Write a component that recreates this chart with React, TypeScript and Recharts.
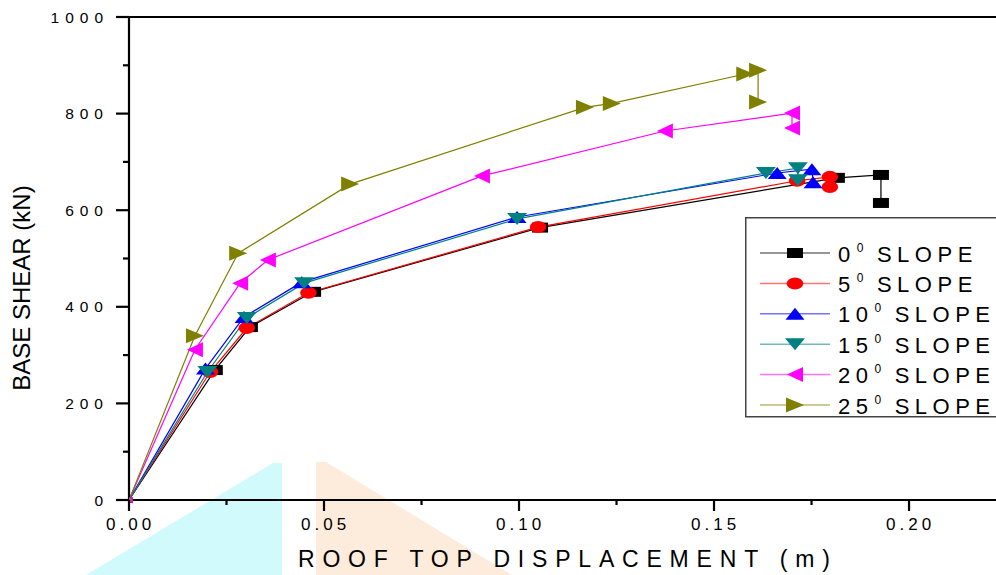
import React from 'react';
import { LineChart, Line, XAxis, YAxis, ReferenceLine } from 'recharts';

// roof displacement (m) and base shear (kN) per roof slope
const slope0Disp = [0, 0.022, 0.031, 0.0472, 0.1054, 0.1815, 0.1928, 0.1928];
const slope0Shear = [0, 269, 358, 431, 564, 667, 673, 615];

const slope5Disp = [0, 0.0208, 0.0302, 0.046, 0.1049, 0.1713, 0.1797, 0.1797];
const slope5Shear = [0, 265, 356, 429, 565, 661, 669, 648];

const slope10Disp = [0, 0.0196, 0.0295, 0.0443, 0.0995, 0.1662, 0.1751, 0.1754];
const slope10Shear = [0, 272, 379, 451, 586, 677, 685, 658];

const slope15Disp = [0, 0.0201, 0.0302, 0.0449, 0.0995, 0.1633, 0.1715, 0.1715];
const slope15Shear = [0, 265, 377, 449, 582, 677, 687, 662];

const slope20Disp = [0, 0.0169, 0.0285, 0.0356, 0.0905, 0.1374, 0.17, 0.17];
const slope20Shear = [0, 311, 449, 497, 671, 764, 801, 770];

const slope25Disp = [0, 0.0169, 0.028, 0.0567, 0.1169, 0.1238, 0.158, 0.1613, 0.1613];
const slope25Shear = [0, 340, 511, 654, 813, 821, 882, 890, 824];

const slopeLabels = ['0', '5', '10', '15', '20', '25'];

const xMajorTicks = [0, 0.05, 0.1, 0.15, 0.2];
const xMinorTicks = [0.025, 0.075, 0.125, 0.175];
const yMajorTicks = [0, 200, 400, 600, 800, 1000];
const yMinorTicks = [100, 300, 500, 700, 900];

const FONT = '"Liberation Sans", Arial, sans-serif';

type MarkerKind = 'square' | 'circle' | 'up' | 'down' | 'left' | 'right';

const toPoints = (xs: number[], ys: number[]) => xs.map((x, i) => ({ x, y: ys[i] }));

const series: { label: string; data: { x: number; y: number }[]; color: string; marker: MarkerKind }[] = [
  { label: slopeLabels[0], data: toPoints(slope0Disp, slope0Shear), color: '#000000', marker: 'square' },
  { label: slopeLabels[1], data: toPoints(slope5Disp, slope5Shear), color: '#ff0000', marker: 'circle' },
  { label: slopeLabels[2], data: toPoints(slope10Disp, slope10Shear), color: '#0000ff', marker: 'up' },
  { label: slopeLabels[3], data: toPoints(slope15Disp, slope15Shear), color: '#008080', marker: 'down' },
  { label: slopeLabels[4], data: toPoints(slope20Disp, slope20Shear), color: '#ff00ff', marker: 'left' },
  { label: slopeLabels[5], data: toPoints(slope25Disp, slope25Shear), color: '#808000', marker: 'right' },
];

function Marker({ kind, cx, cy, color, s = 1 }: { kind: MarkerKind; cx: number; cy: number; color: string; s?: number }) {
  switch (kind) {
    case 'square':
      return <rect x={cx - 8 * s} y={cy - 5 * s} width={16 * s} height={10 * s} fill={color} />;
    case 'circle':
      return <ellipse cx={cx} cy={cy} rx={8.3 * s} ry={6 * s} fill={color} />;
    case 'up':
      return <polygon points={`${cx - 9.5 * s},${cy + 6 * s} ${cx + 9.5 * s},${cy + 6 * s} ${cx},${cy - 6 * s}`} fill={color} />;
    case 'down':
      return <polygon points={`${cx - 10 * s},${cy - 6 * s} ${cx + 10 * s},${cy - 6 * s} ${cx},${cy + 6 * s}`} fill={color} />;
    case 'left':
      return <polygon points={`${cx + 8 * s},${cy - 7.5 * s} ${cx + 8 * s},${cy + 7.5 * s} ${cx - 8 * s},${cy}`} fill={color} />;
    default:
      return <polygon points={`${cx - 9 * s},${cy - 7.5 * s} ${cx - 9 * s},${cy + 7.5 * s} ${cx + 9 * s},${cy}`} fill={color} />;
  }
}

const isMajor = (v: number, list: number[]) => list.some((t) => Math.abs(t - v) < 1e-9);

function XTick(props: any) {
  const { x, y, payload } = props;
  const major = isMajor(payload.value, xMajorTicks);
  return (
    <g>
      <line x1={x} y1={y} x2={x} y2={y + (major ? 11 : 5)} stroke="#000" strokeWidth={2.2} />
      {major && (
        <text x={x - 23} y={y + 30} fontSize={17} letterSpacing={4} fontFamily={FONT} fill="#000">
          {payload.value.toFixed(2)}
        </text>
      )}
    </g>
  );
}

function YTick(props: any) {
  const { x, y, payload } = props;
  const major = isMajor(payload.value, yMajorTicks);
  return (
    <g>
      <line x1={x} y1={y} x2={x - (major ? 13 : 6)} y2={y} stroke="#000" strokeWidth={2.2} />
      {major && (
        <text x={x - 20} y={y + 5.5} textAnchor="end" fontSize={15.5} letterSpacing={6} fontFamily={FONT} fill="#000">
          {payload.value}
        </text>
      )}
    </g>
  );
}

function SlopeLegend() {
  return (
    <svg width={260} height={202} style={{ position: 'absolute', left: 745, top: 217 }}>
      <rect x={0.75} y={0.75} width={300} height={199} fill="#fff" stroke="#444" strokeWidth={1.5} />
      {series.map((s, i) => {
        const cy = 36 + i * 30.4;
        return (
          <g key={s.label}>
            <line x1={15} y1={cy} x2={85} y2={cy} stroke={s.color} strokeOpacity={0.55} strokeWidth={1.5} />
            <Marker kind={s.marker} cx={50} cy={cy} color={s.color} />
            <text x={93} y={cy + 8.5} fontSize={22} letterSpacing={5.5} fontFamily={FONT} fill="#000">
              <tspan>{s.label}</tspan>
              <tspan fontSize={12} dy={-10} dx={1}>0</tspan>
              <tspan dy={10} dx={8}>SLOPE</tspan>
            </text>
          </g>
        );
      })}
    </svg>
  );
}

export default function App() {
  return (
    <div style={{ position: 'relative', width: 996, height: 575, overflow: 'hidden', background: '#fff' }}>
      <style>{'body{margin:0}'}</style>
      <svg width={996} height={575} style={{ position: 'absolute', left: 0, top: 0 }}>
        <polygon points="86,575 273,463 282,463 282,575" fill="#d0fafb" />
        <polygon points="316,462 326,462 512,575 316,575" fill="#fdecdb" />
      </svg>
      <div style={{ position: 'absolute', left: 0, top: 0 }}>
        <LineChart width={996} height={575} margin={{ top: 17, right: 0, bottom: 0, left: 0 }}>
          <XAxis
            type="number"
            dataKey="x"
            domain={[0, 0.2223]}
            allowDataOverflow
            ticks={[...xMajorTicks, ...xMinorTicks].sort((a, b) => a - b)}
            interval={0}
            height={75}
            tickSize={0}
            tickMargin={0}
            tickLine={false}
            axisLine={{ stroke: '#000', strokeWidth: 2.2 }}
            tick={(p: any) => <XTick {...p} />}
            label={{
              value: 'ROOF TOP DISPLACEMENT (m)',
              content: () => (
                <text x={298} y={567} fontSize={23} letterSpacing={7.8} fontFamily={FONT} fill="#000">
                  ROOF TOP DISPLACEMENT (m)
                </text>
              ),
            }}
          />
          <YAxis
            type="number"
            domain={[0, 1000]}
            ticks={[...yMajorTicks, ...yMinorTicks].sort((a, b) => a - b)}
            interval={0}
            width={129}
            tickSize={0}
            tickMargin={0}
            tickLine={false}
            axisLine={{ stroke: '#000', strokeWidth: 2.2 }}
            tick={(p: any) => <YTick {...p} />}
            label={{
              value: 'BASE SHEAR (kN)',
              content: () => (
                <text
                  x={30}
                  y={288}
                  textAnchor="middle"
                  fontSize={24}
                  fontFamily={FONT}
                  fill="#000"
                  transform="rotate(-90, 30, 288)"
                >
                  BASE SHEAR (kN)
                </text>
              ),
            }}
          />
          <ReferenceLine y={1000} stroke="#000" strokeWidth={2.2} />
          {series.map((s) => (
            <Line
              key={s.label}
              data={s.data}
              dataKey="y"
              type="linear"
              stroke={s.color}
              strokeWidth={1.2}
              isAnimationActive={false}
              activeDot={false}
              legendType="none"
              dot={(p: any) => (
                <g key={`${s.label}-${p.index}`}>
                  <Marker kind={s.marker} cx={p.cx} cy={p.cy} color={s.color} s={p.index === 0 ? 0.45 : 1} />
                </g>
              )}
            />
          ))}
        </LineChart>
      </div>
      <SlopeLegend />
    </div>
  );
}
